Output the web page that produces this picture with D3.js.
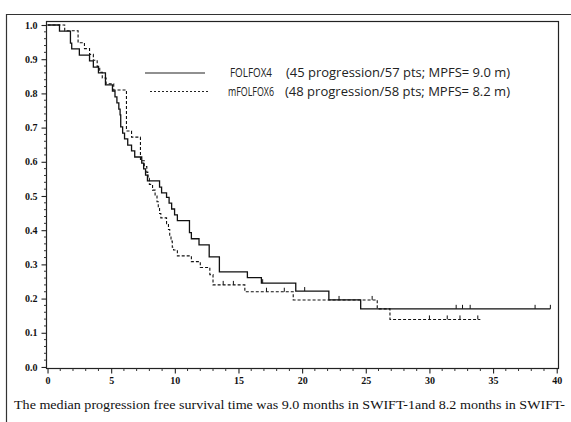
<!DOCTYPE html>
<html><head><meta charset="utf-8">
<script src="https://cdn.jsdelivr.net/npm/d3@7"></script>
<style>body{margin:0;background:#fff}svg{display:block}</style>
</head><body>
<script>
// ---- data ----
const folfox4Time = [0, 0.94, 1.8, 1.9, 2.5, 3.3, 3.6, 4.0, 4.55, 5.1, 5.3, 5.45, 5.6, 5.7, 5.75, 5.9, 6.05, 6.3, 6.6, 6.85, 7.4, 7.55, 7.7, 7.85, 8.8, 8.96, 9.35, 9.55, 9.75, 9.98, 10.2, 11.15, 11.3, 11.9, 12.7, 13.5, 15.7, 16.8, 19.5, 22.1, 24.6, 39.5];
const folfox4Surv = [1, 0.982, 0.947, 0.93, 0.912, 0.895, 0.877, 0.86, 0.825, 0.807, 0.79, 0.772, 0.754, 0.737, 0.702, 0.684, 0.667, 0.649, 0.632, 0.614, 0.596, 0.579, 0.561, 0.544, 0.526, 0.509, 0.496, 0.479, 0.462, 0.445, 0.428, 0.393, 0.375, 0.357, 0.322, 0.278, 0.261, 0.245, 0.222, 0.196, 0.17, 0.17];
const folfox4Censor = [16.9, 20.2, 22.9, 32.1, 32.6, 33.2, 38.3, 39.5];

const mfolfox6Time = [0, 1.35, 2.4, 2.9, 3.3, 3.6, 3.9, 4.1, 4.3, 4.6, 5.2, 6.2, 6.6, 7.3, 7.6, 7.8, 7.9, 8.0, 8.25, 8.45, 8.6, 8.7, 8.8, 8.9, 9.35, 9.5, 9.6, 9.7, 9.8, 9.9, 10.2, 11.3, 12.0, 12.75, 13.0, 15.5, 19.3, 25.9, 26.9, 34.0];
const mfolfox6Surv = [1, 0.983, 0.948, 0.931, 0.914, 0.897, 0.879, 0.862, 0.845, 0.828, 0.81, 0.69, 0.672, 0.603, 0.586, 0.569, 0.552, 0.534, 0.517, 0.5, 0.483, 0.466, 0.449, 0.436, 0.419, 0.402, 0.385, 0.368, 0.35, 0.342, 0.325, 0.308, 0.291, 0.27, 0.24, 0.22, 0.196, 0.17, 0.139, 0.139];
const mfolfox6Censor = [13.8, 14.6, 17.2, 18.6, 25.5, 30.0, 31.4, 32.4, 33.8];

const xTicks = [0, 5, 10, 15, 20, 25, 30, 35, 40];
const yTicks = [0, 0.1, 0.2, 0.3, 0.4, 0.5, 0.6, 0.7, 0.8, 0.9, 1.0];
const legendNames = ["FOLFOX4", "mFOLFOX6"];
const legendNotes = ["(45 progression/57 pts; MPFS= 9.0 m)", "(48 progression/58 pts; MPFS= 8.2 m)"];
const caption = "The median progression free survival time was 9.0 months in SWIFT-1and 8.2 months in SWIFT-";

// ---- layout ----
const W = 571, H = 422;
const frame = {l: 46, r: 558, t: 21, b: 368};
const svg = d3.select("body").append("svg").attr("width", W).attr("height", H);

const x = d3.scaleLinear().domain([-0.12, 40.1]).range([frame.l, frame.r]);
const y = d3.scaleLinear().domain([-0.003, 1.0117]).range([frame.b, frame.t]);

// outer page frame
svg.append("path").attr("d", `M6.5,${H} V14.5 H${W}`).attr("fill", "none").attr("stroke", "#333").attr("stroke-width", 1.2);

// plot frame
svg.append("rect").attr("x", frame.l + 0.5).attr("y", frame.t + 0.5)
  .attr("width", frame.r - frame.l).attr("height", frame.b - frame.t)
  .attr("fill", "none").attr("stroke", "#222").attr("stroke-width", 1.2);

// axes
const yAxis = d3.axisLeft(y).tickValues(yTicks).tickFormat(d3.format(".1f")).tickSize(5).tickPadding(4);
const gy = svg.append("g").attr("transform", `translate(${frame.l + 0.5},0)`).call(yAxis);
const xAxis = d3.axisBottom(x).tickValues(xTicks).tickFormat(d3.format("d")).tickSize(5).tickPadding(3);
const gx = svg.append("g").attr("transform", `translate(0,${frame.b + 0.5})`).call(xAxis);
[gx, gy].forEach(g => {
  g.select(".domain").remove();
  g.selectAll("line").attr("stroke", "#222").attr("stroke-width", 1.1);
  g.selectAll("text").attr("font-family", "Liberation Serif, serif").attr("font-size", 10).attr("fill", "#111").attr("font-weight", "bold");
});
// minor ticks
const yMinor = d3.range(0, 1.0001, 0.02).filter(v => Math.abs(v * 10 - Math.round(v * 10)) > 1e-6);
svg.append("g").selectAll("line").data(yMinor).join("line")
  .attr("x1", frame.l + 0.5).attr("x2", frame.l - 2).attr("y1", d => y(d)).attr("y2", d => y(d))
  .attr("stroke", "#333").attr("stroke-width", 1);
const xMinor = d3.range(0, 40.001, 1).filter(v => v % 5 !== 0);
svg.append("g").selectAll("line").data(xMinor).join("line")
  .attr("x1", d => x(d)).attr("x2", d => x(d)).attr("y1", frame.b + 0.5).attr("y2", frame.b + 3)
  .attr("stroke", "#333").attr("stroke-width", 1);

// curves
const line = d3.line().x(d => x(d[0])).y(d => y(d[1])).curve(d3.curveStepAfter);
function series(times, surv) { return times.map((t, i) => [t, surv[i]]); }
function survAt(times, surv, t) { let s = surv[0]; for (let i = 0; i < times.length; i++) if (times[i] <= t) s = surv[i]; return s; }

const specs = [
  {t: folfox4Time, s: folfox4Surv, c: folfox4Censor, dash: null, w: 1.3},
  {t: mfolfox6Time, s: mfolfox6Surv, c: mfolfox6Censor, dash: "3,2", w: 1.1}
];
specs.forEach(sp => {
  svg.append("path").datum(series(sp.t, sp.s)).attr("d", line)
    .attr("fill", "none").attr("stroke", "#111").attr("stroke-width", sp.w)
    .attr("stroke-dasharray", sp.dash);
  svg.append("g").selectAll("line").data(sp.c).join("line")
    .attr("x1", d => x(d)).attr("x2", d => x(d))
    .attr("y1", d => y(survAt(sp.t, sp.s, d))).attr("y2", d => y(survAt(sp.t, sp.s, d)) - 4)
    .attr("stroke", "#111").attr("stroke-width", 1);
});

// legend
const lg = svg.append("g");
const nameX = [[230, 42], [228, 46]];
const noteX = [[286, 224], [285, 225]];
legendNames.forEach((name, i) => {
  const yy = 73 + i * 18.5;
  lg.append("line").attr("x1", i === 0 ? 145 : 150).attr("x2", i === 0 ? 205 : 208).attr("y1", yy).attr("y2", yy)
    .attr("stroke", "#222").attr("stroke-width", i === 0 ? 1.1 : 1)
    .attr("stroke-dasharray", i === 0 ? null : "2,2");
  lg.append("text").attr("x", nameX[i][0]).attr("y", yy + 4).text(name)
    .attr("font-family", "Open Sans, sans-serif").attr("font-size", 12).attr("fill", "#222")
    .attr("textLength", nameX[i][1]).attr("lengthAdjust", "spacingAndGlyphs");
  lg.append("text").attr("x", noteX[i][0]).attr("y", yy + 4).text(legendNotes[i])
    .attr("font-family", "Open Sans, sans-serif").attr("font-size", 12).attr("fill", "#222")
    .attr("textLength", noteX[i][1]).attr("lengthAdjust", "spacingAndGlyphs");
});

// caption
svg.append("text").attr("x", 14).attr("y", 409).text(caption)
  .attr("font-family", "Liberation Serif, serif").attr("font-size", 13).attr("fill", "#111")
  .attr("textLength", 551).attr("lengthAdjust", "spacingAndGlyphs");
</script>
</body></html>
